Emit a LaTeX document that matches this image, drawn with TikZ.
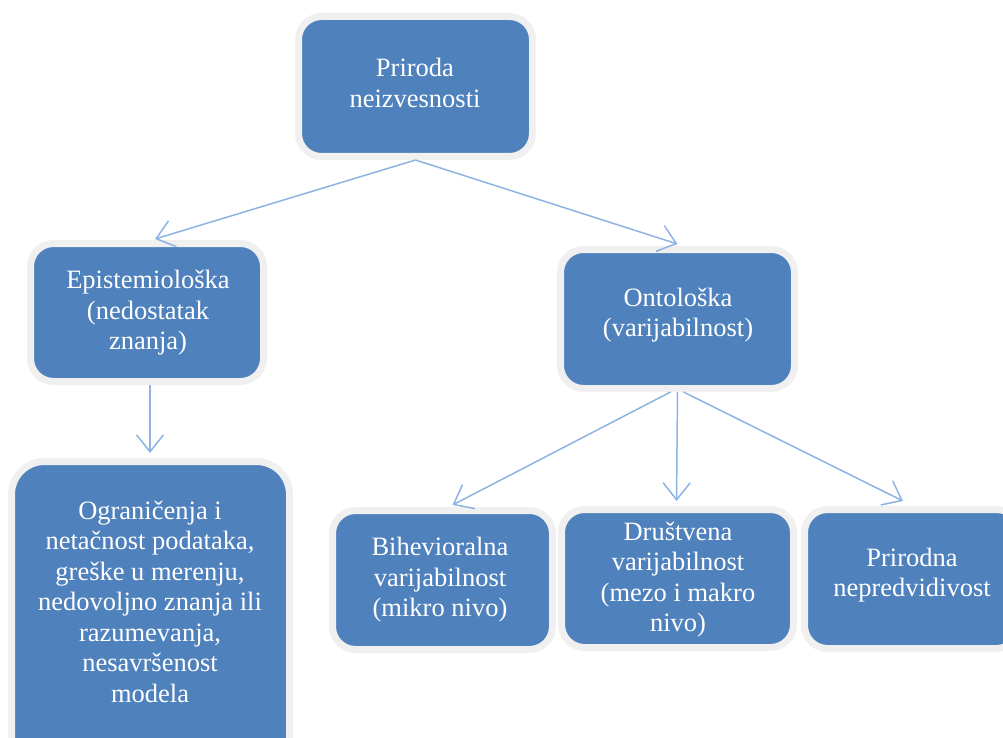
\documentclass[tikz,border=0pt]{standalone}
\usepackage{fontspec}
\setmainfont{Liberation Serif}
\usetikzlibrary{arrows.meta}
\definecolor{boxblue}{HTML}{4F81BD}
\definecolor{boxrim}{HTML}{F0F0F0}
\definecolor{arrblue}{HTML}{8DB3E2}
\tikzset{
  boxnode/.style={rectangle, rounded corners=23pt, draw=boxrim, line width=7pt,
    fill=boxblue, inner sep=0pt},
  txtnode/.style={text=white, align=center, inner sep=0pt,
    font=\fontsize{26.5}{30.5}\selectfont},
  arr/.style={draw=arrblue, line width=1.5pt,
    -{Straight Barb[length=17pt, width=27pt, line width=1.5pt]}}
}
\begin{document}
\begin{tikzpicture}[x=1pt, y=-1pt]
\useasboundingbox (0,0) rectangle (1003,738);
\clip (0,0) rectangle (1003,738);
% boxes (size = blue area + 7)
\node[boxnode, minimum width=234pt, minimum height=140pt] (top) at (415.5,86.5) {};
\node[boxnode, minimum width=233pt, minimum height=138pt] (epist) at (147,312.5) {};
\node[boxnode, minimum width=234pt, minimum height=139pt] (ont) at (677.5,319) {};
\node[boxnode, rounded corners=33pt, minimum width=278pt, minimum height=312pt] (big) at (150.5,617.5) {};
\node[boxnode, minimum width=220pt, minimum height=139pt] (bih) at (442.5,580) {};
\node[boxnode, minimum width=232pt, minimum height=138pt] (dru) at (677.5,578.5) {};
\node[boxnode, minimum width=215pt, minimum height=139pt] (pri) at (912,579) {};
% texts
\node[txtnode] (topT) at (415,83) {Priroda\\neizvesnosti};
\node[txtnode] (epistT) at (148,313) {Epistemiološka\\(nedostatak\\znanja)};
\node[txtnode] (ontT) at (678,315) {Ontološka\\(varijabilnost)};
\node[txtnode] (bigT) at (150,601.5) {Ograničenja i\\netačnost podataka,\\greške u merenju,\\nedovoljno znanja ili\\razumevanja,\\nesavršenost\\modela};
\node[txtnode] (bihT) at (440,580) {Bihevioralna\\varijabilnost\\(mikro nivo)};
\node[txtnode] (druT) at (678,579.5) {Društvena\\varijabilnost\\(mezo i makro\\nivo)};
\node[txtnode] (priT) at (912,575) {Prirodna\\nepredvidivost};
% connectors
\draw[arr] (top.south) -- ([xshift=8pt,yshift=1pt]epist.north);
\draw[arr] (top.south) -- ([yshift=2pt]ont.north);
\draw[arr] ([xshift=3pt]epist.south) -- ([xshift=-0.5pt,yshift=5pt]big.north);
\draw[arr] ([xshift=-7pt]ont.south) -- ([xshift=10pt,yshift=2pt]bih.north);
\draw[arr] (ont.south) -- ([xshift=-1pt,yshift=5pt]dru.north);
\draw[arr] ([xshift=6pt]ont.south) -- ([xshift=-9pt,yshift=5pt]pri.north);
\end{tikzpicture}
\end{document}
